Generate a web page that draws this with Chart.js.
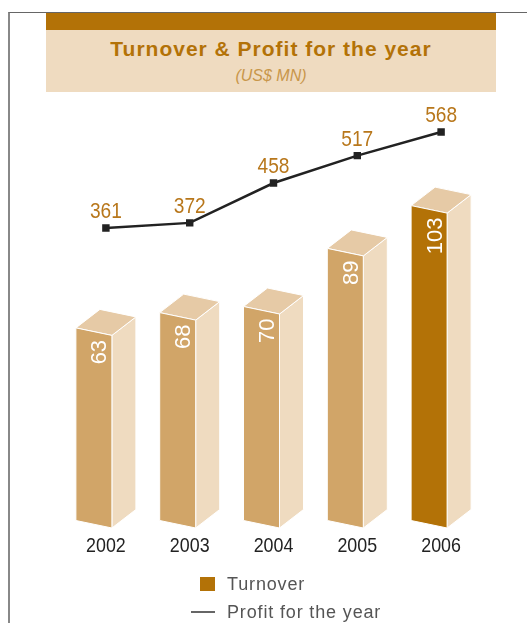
<!DOCTYPE html>
<html>
<head>
<meta charset="utf-8">
<title>Turnover & Profit for the year</title>
<script src="https://cdn.jsdelivr.net/npm/chart.js@4"></script>
<style>
    html, body { margin: 0; padding: 0; width: 527px; height: 623px; overflow: hidden; background: #fff; font-family: "Liberation Sans", Arial, sans-serif; }
    #frame { position: absolute; left: 8px; top: 12px; width: 519px; height: 611px; border-left: 2px solid #888; border-top: 1.5px solid #666; box-sizing: border-box; }
    #banner { position: absolute; left: 46px; top: 13px; width: 450px; height: 79px; background: #efdbc0; border-top: 17px solid #b37207; box-sizing: border-box; text-align: center; }
    #banner h1 { margin: 7px 0 0; font-size: 21px; line-height: 24px; font-weight: bold; letter-spacing: 1px; color: #b37207; }
    #banner p { margin: 6px 0 0; font-size: 16px; line-height: 18px; font-style: italic; color: #c8964a; }
    #chart { position: absolute; left: 0; top: 0; }
    .legend-item { position: absolute; left: 227px; font-size: 18px; line-height: 20px; letter-spacing: 0.85px; color: #555; }
    .swatch { position: absolute; }
</style>
</head>
<body>
<div id="frame"></div>
<canvas id="chart" width="527" height="623"></canvas>
<div id="banner">
    <h1>Turnover &amp; Profit for the year</h1>
    <p>(US$ MN)</p>
</div>
<div class="swatch" style="left:200px;top:577px;width:15px;height:14px;background:#b37207"></div>
<div class="legend-item" id="legend-bar" style="top:574px"></div>
<div class="swatch" style="left:191px;top:611px;width:24px;height:2px;background:#666"></div>
<div class="legend-item" id="legend-line" style="top:602px"></div>
<script>
// Chart data
const years = ['2002', '2003', '2004', '2005', '2006'];
const turnover = [63, 68, 70, 89, 103];
const profit = [361, 372, 458, 517, 568];
const turnoverLabel = 'Turnover';
const profitLabel = 'Profit for the year';

// Colours of the box faces, last year is highlighted
const frontColors = ['#d1a568', '#d1a568', '#d1a568', '#d1a568', '#b37207'];
const topColor = '#e6caa6';
const sideColor = '#efdbc0';

document.getElementById('legend-bar').textContent = turnoverLabel;
document.getElementById('legend-line').textContent = profitLabel;

const polygon = (ctx, points, fill) => {
    ctx.beginPath();
    points.forEach((p, i) => i ? ctx.lineTo(p[0], p[1]) : ctx.moveTo(p[0], p[1]));
    ctx.closePath();
    ctx.fillStyle = fill;
    ctx.fill();
    ctx.strokeStyle = '#fff';
    ctx.lineWidth = 1;
    ctx.stroke();
};

// The original type is a squeezed Helvetica, no narrow font is installed
const narrowText = (ctx, text, x, y, squeeze) => {
    ctx.save();
    ctx.translate(x, y);
    ctx.scale(squeeze, 1);
    ctx.fillText(text, 0, 0);
    ctx.restore();
};

// Draws the pseudo 3D boxes on top of the (transparent) bar elements
const boxPlugin = {
    id: 'boxes',
    beforeDatasetsDraw(chart) {
        const ctx = chart.ctx;
        const meta = chart.getDatasetMeta(1);
        const shift = 6;      // front face right edge, relative to category centre
        const slant = 7.5;    // front face top falls to the right
        const dx = 24;
        const dy = 18.5;
        ctx.save();
        meta.data.forEach((bar, i) => {
            const right = bar.x + shift;
            const left = right - bar.width;
            const top = bar.y;
            const base = bar.base;
            polygon(ctx, [[right, top], [right + dx, top - dy], [right + dx, base - dy], [right, base]], sideColor);
            polygon(ctx, [[left, top - slant], [left + dx, top - slant - dy], [right + dx, top - dy], [right, top]], topColor);
            polygon(ctx, [[left, top - slant], [right, top], [right, base], [left, base - slant]], frontColors[i]);

            // value running up the front face
            ctx.save();
            ctx.translate((left + right) / 2 + 6.5, top - slant + 12);
            ctx.rotate(-Math.PI / 2);
            ctx.fillStyle = '#fff';
            ctx.font = '22px "Liberation Sans"';
            ctx.textAlign = 'right';
            ctx.textBaseline = 'middle';
            ctx.fillText(turnover[i], 0, 0);
            ctx.restore();
        });
        ctx.restore();
    },
    afterDatasetsDraw(chart) {
        const ctx = chart.ctx;
        ctx.save();
        ctx.textAlign = 'center';
        ctx.textBaseline = 'alphabetic';

        // profit values above the line
        ctx.font = '22px "Liberation Sans"';
        ctx.fillStyle = '#b8771b';
        chart.getDatasetMeta(0).data.forEach((point, i) => {
            narrowText(ctx, profit[i], point.x, point.y - 10, 0.87);
        });

        // years under the boxes
        ctx.font = '21px "Liberation Sans"';
        ctx.fillStyle = '#222';
        years.forEach((year, i) => {
            narrowText(ctx, year, chart.scales.x.getPixelForTick(i), chart.scales.x.top + 24, 0.85);
        });
        ctx.restore();
    }
};

new Chart(document.getElementById('chart').getContext('2d'), {
    data: {
        labels: years,
        datasets: [
            {
                type: 'line',
                label: profitLabel,
                data: profit,
                yAxisID: 'yLine',
                borderColor: '#222',
                borderWidth: 2.5,
                tension: 0,
                pointStyle: 'rect',
                pointRadius: 3.5,
                pointBackgroundColor: '#222',
                pointBorderColor: '#222',
                order: 0
            },
            {
                type: 'bar',
                label: turnoverLabel,
                data: turnover,
                yAxisID: 'yBar',
                backgroundColor: 'rgba(0,0,0,0)',
                barThickness: 36,
                order: 1
            }
        ]
    },
    options: {
        responsive: false,
        animation: false,
        devicePixelRatio: 1,
        layout: { padding: { left: 64, right: 44, top: 100, bottom: 65 } },
        plugins: { legend: { display: false }, title: { display: false }, tooltip: { enabled: false } },
        scales: {
            x: {
                grid: { display: false },
                border: { display: false },
                afterFit: scale => { scale.height = 30; },
                ticks: { display: false }
            },
            yBar: { display: false, min: 0, max: 140 },
            yLine: { display: false, min: -286, max: 637 }
        }
    },
    plugins: [boxPlugin]
});
</script>
</body>
</html>
